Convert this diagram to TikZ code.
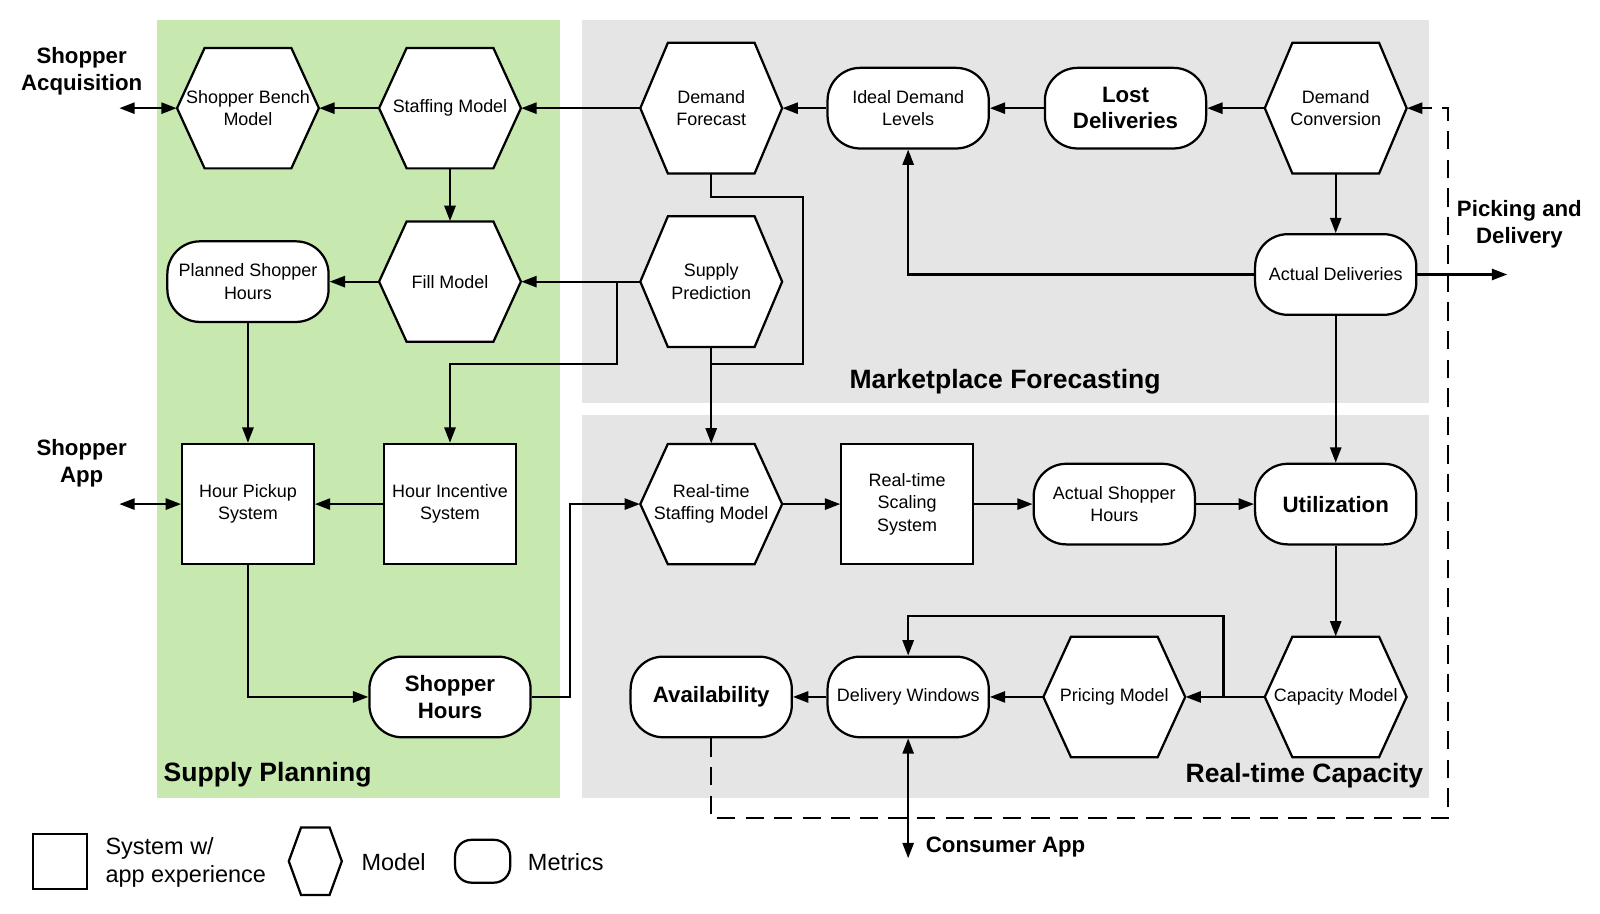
\documentclass[tikz,border=0pt]{standalone}
\usepackage{fontspec}
\setmainfont{Liberation Sans}
\usetikzlibrary{arrows.meta}
\definecolor{supplygreen}{RGB}{199,233,175}
\definecolor{regiongray}{RGB}{229,229,229}
\tikzset{
  nodefont/.style={font=\fontsize{8.8}{11}\selectfont},
  boldfont/.style={font=\fontsize{10.9}{13}\selectfont\bfseries},
  hexline/.style={line width=1.1pt, fill=white, line join=miter},
  hexbox/.style={nodefont, inner sep=0pt, minimum width=69.5pt, align=center},
  sysbox/.style={draw, line width=1.1pt, fill=white, inner sep=0pt, minimum width=64.5pt, minimum height=59pt, align=center, nodefont},
  metric/.style={draw, line width=1.1pt, fill=white, rounded corners=16pt, inner sep=0pt, minimum width=79pt, minimum height=39.5pt, align=center, nodefont},
  bigmetric/.style={metric, boldfont},
  outlabel/.style={boldfont, align=center, inner sep=0pt},
  sectitle/.style={font=\fontsize{13}{15}\selectfont\bfseries, inner sep=0pt},
  legtext/.style={font=\fontsize{11.5}{14}\selectfont, align=left, inner sep=0pt},
  conn/.style={line width=1pt},
  arr/.style={conn, -{Triangle[length=7.5pt,width=5.5pt]}},
  dblarr/.style={conn, {Triangle[length=7.5pt,width=5.5pt]}-{Triangle[length=7.5pt,width=5.5pt]}},
  dasharr/.style={arr, dash pattern=on 9pt off 5pt},
}
% name, x, y, half height, text
\newcommand{\hexmodel}[5]{%
  \filldraw[hexline] (#2-69.5,#3) -- (#2-42.5,#3-#4) -- (#2+42.5,#3-#4) -- (#2+69.5,#3) -- (#2+42.5,#3+#4) -- (#2-42.5,#3+#4) -- cycle;
  \node[hexbox, minimum height=#4pt] (#1) at (#2,#3) {#5};
}
\begin{document}
\begin{tikzpicture}[x=0.5pt, y=-0.5pt]
\useasboundingbox (0,0) rectangle (1568,895);
% regions
\fill[supplygreen] (154,20) rectangle (549,782);
\fill[regiongray] (570,20) rectangle (1400,395);
\fill[regiongray] (570,407) rectangle (1400,782);
\node[sectitle, anchor=west] (supplytitle) at (160,759) {Supply Planning};
\node[sectitle] (markettitle) at (985,374) {Marketplace Forecasting};
\node[sectitle, anchor=east] (capacitytitle) at (1395,760) {Real-time Capacity};
% models
\hexmodel{bench}{243}{106}{59}{Shopper Bench\\Model}
\hexmodel{staff}{441}{106}{59}{Staffing Model}
\hexmodel{dfc}{697}{106}{64}{Demand\\Forecast}
\hexmodel{dconv}{1309}{106}{64}{Demand\\Conversion}
\hexmodel{fillm}{441}{276}{59}{Fill Model}
\hexmodel{supp}{697}{276}{64}{Supply\\Prediction}
\hexmodel{rsm}{697}{494}{59}{Real-time\\Staffing Model}
\hexmodel{price}{1092}{683}{59}{Pricing Model}
\hexmodel{capm}{1309}{683}{59}{Capacity Model}
% metrics
\node[metric] (ideal) at (890,106) {Ideal Demand\\Levels};
\node[bigmetric] (lost) at (1103,106) {Lost\\Deliveries};
\node[metric] (actdel) at (1309,269) {Actual Deliveries};
\node[metric] (planned) at (243,276) {Planned Shopper\\Hours};
\node[bigmetric] (shhours) at (441,683) {Shopper\\Hours};
\node[metric] (acthrs) at (1092,494) {Actual Shopper\\Hours};
\node[bigmetric] (util) at (1309,494) {Utilization};
\node[bigmetric] (avail) at (697,683) {Availability};
\node[metric] (dwin) at (890,683) {Delivery Windows};
% systems
\node[sysbox] (pickup) at (243,494) {Hour Pickup\\System};
\node[sysbox] (incent) at (441,494) {Hour Incentive\\System};
\node[sysbox] (scale) at (889,494) {Real-time\\Scaling\\System};
% outside
\node[outlabel] (acqlbl) at (80,70) {Shopper\\Acquisition};
\node[outlabel] (applbl) at (80,454) {Shopper\\App};
\node[outlabel] (pdlbl) at (1489,220) {Picking and\\Delivery};
\node[outlabel, anchor=west] (calbl) at (907,830) {Consumer App};
\coordinate (acqout) at (117,106);
\coordinate (appout) at (117,494);
\coordinate (pdout) at (1477,269);
\coordinate (caout) at (890,841);
\coordinate (spbr) at (605,357);
\coordinate (dfbr) at (787,193);
\coordinate (shbr) at (559,683);
\coordinate (cmbr) at (1199,604);
\coordinate (dashbl) at (697,802);
\coordinate (dashtr) at (1419,106);
% connectors
\draw[dblarr] (acqout) -- (bench.west);
\draw[arr] (staff.west) -- (bench.east);
\draw[arr] (dfc.west) -- (staff.east);
\draw[arr] (ideal.west) -- (dfc.east);
\draw[arr] (lost.west) -- (ideal.east);
\draw[arr] (dconv.west) -- (lost.east);
\draw[arr] (dconv.south) -- (actdel.north);
\draw[arr] (actdel.west) -| (ideal.south);
\draw[arr] (actdel.east) -- (pdout);
\draw[arr] (actdel.south) -- (util.north);
\draw[arr] (staff.south) -- (fillm.north);
\draw[arr] (fillm.west) -- (planned.east);
\draw[arr] (supp.west) -- (fillm.east);
\draw[arr] (supp.west -| spbr) -- (spbr) -| (incent.north);
\draw[conn] (dfc.south) |- (dfbr) |- (spbr -| rsm.north);
\draw[arr] (supp.south) -- (rsm.north);
\draw[arr] (planned.south) -- (pickup.north);
\draw[arr] (incent.west) -- (pickup.east);
\draw[dblarr] (appout) -- (pickup.west);
\draw[arr] (pickup.south) |- (shhours.west);
\draw[arr] (shhours.east) -- (shbr) |- (rsm.west);
\draw[arr] (rsm.east) -- (scale.west);
\draw[arr] (scale.east) -- (acthrs.west);
\draw[arr] (acthrs.east) -- (util.west);
\draw[arr] (util.south) -- (capm.north);
\draw[arr] (capm.west) -- (price.east);
\draw[arr] (capm.west -| cmbr) -- (cmbr) -| (dwin.north);
\draw[arr] (price.west) -- (dwin.east);
\draw[arr] (dwin.west) -- (avail.east);
\draw[dblarr] (dwin.south) -- (caout);
\draw[dasharr] (avail.south) -- (dashbl) -| (dashtr) -- (dconv.east);
% legend
\node[draw, line width=1.1pt, minimum width=26.5pt, minimum height=27pt, inner sep=0pt] (legsys) at (58.5,844) {};
\node[legtext, anchor=west] (legsystxt) at (103,845) {System w/\\app experience};
\filldraw[hexline] (283,844) -- (295,811) -- (323,811) -- (335,844) -- (323,877) -- (295,877) -- cycle;
\node[legtext, anchor=west] (legmodeltxt) at (354,845) {Model};
\node[draw, line width=1.1pt, rounded corners=8pt, minimum width=27pt, minimum height=21pt, inner sep=0pt] (legmetric) at (473,844) {};
\node[legtext, anchor=west] (legmetrictxt) at (517,845) {Metrics};
\end{tikzpicture}
\end{document}
